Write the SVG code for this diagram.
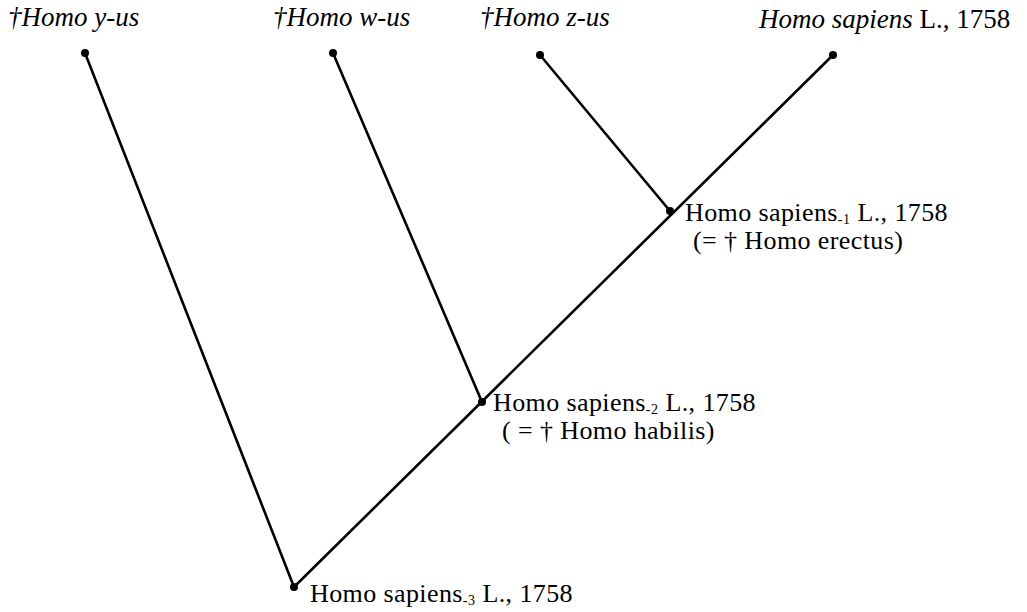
<svg xmlns="http://www.w3.org/2000/svg" width="1027" height="612" viewBox="0 0 1027 612">
<style>
text{fill:#000}
.tip{font-size:27px;font-style:italic}
.lab{font-size:26px;letter-spacing:0.4px}
.sub{font-size:14px;letter-spacing:0.5px}
line{stroke:#000;stroke-width:2.6;stroke-linecap:round}
circle{fill:#000}
</style>
<rect width="1027" height="612" fill="#fff"/>
<g id="connectors">
<line x1="85" y1="53" x2="294" y2="587"/>
<line x1="333" y1="53" x2="482" y2="402"/>
<line x1="540" y1="55" x2="670" y2="211"/>
<line x1="833" y1="55" x2="294" y2="587"/>
</g>
<g font-family="Liberation Serif, Times New Roman, serif">
<g id="tip-y"><circle cx="85" cy="53" r="4"/><text class="tip" x="8" y="26">†Homo y-us</text></g>
<g id="tip-w"><circle cx="333" cy="53" r="4"/><text class="tip" x="273" y="26">†Homo w-us</text></g>
<g id="tip-z"><circle cx="540" cy="55" r="4"/><text class="tip" x="480" y="26">†Homo z-us</text></g>
<g id="tip-sapiens"><circle cx="833" cy="55" r="4"/><text class="tip" x="759" y="28">Homo sapiens<tspan font-style="normal"> L., 1758</tspan></text></g>
<g id="node-1"><circle cx="670" cy="211" r="4"/><text class="lab"><tspan x="685" y="221">Homo sapiens</tspan><tspan class="sub" dy="3">-1</tspan><tspan dy="-3"> L., 1758</tspan><tspan x="693" y="249">(= † Homo erectus)</tspan></text></g>
<g id="node-2"><circle cx="482" cy="402" r="4"/><text class="lab"><tspan x="493" y="411">Homo sapiens</tspan><tspan class="sub" dy="3">-2</tspan><tspan dy="-3"> L., 1758</tspan><tspan x="502" y="439">( = † Homo habilis)</tspan></text></g>
<g id="node-3"><circle cx="294" cy="587" r="4"/><text class="lab" x="310" y="602">Homo sapiens<tspan class="sub" dy="3">-3</tspan><tspan dy="-3"> L., 1758</tspan></text></g>
</g>
</svg>
